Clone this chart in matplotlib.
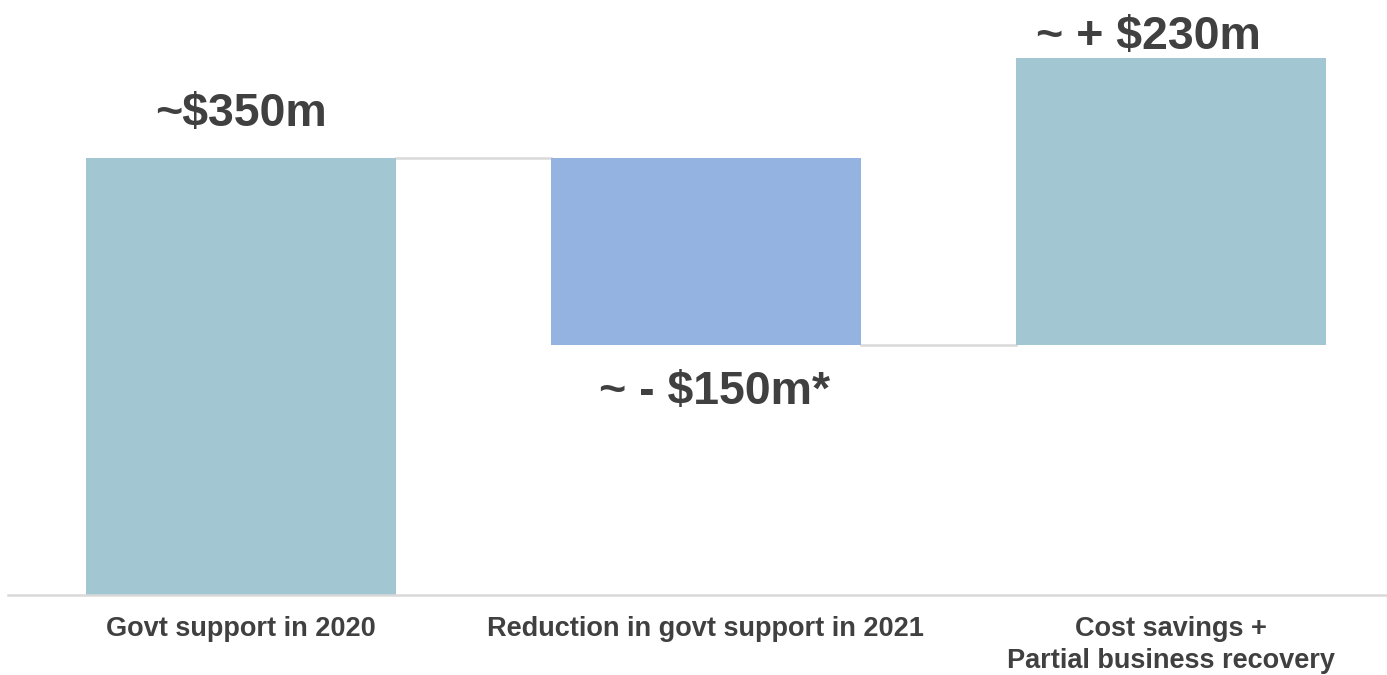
import numpy as np
import matplotlib.pyplot as plt
import matplotlib

matplotlib.rcParams['font.family'] = ['Liberation Sans', 'DejaVu Sans']

# 瀑布图数据
categories = ['Govt support in 2020', 'Reduction in govt support in 2021',
              'Cost savings +\nPartial business recovery']
changes = [350, -150, 230]
value_labels = ['~$350m', '~ - $150m*', '~ + $230m']
bar_colors = ['#A3C6D3', '#95B3E0', '#A3C6D3']

# 计算每根柱子的起点和终点
ends = np.cumsum(changes)
starts = np.concatenate([[0], ends[:-1]])

text_color = '#404040'
line_color = '#D9D9D9'
width = 310 / 465

fig = plt.figure(figsize=(13.87, 6.75), dpi=100)
ax = fig.add_axes([8 / 1387, 80 / 675, 1 - 8 / 1387, 595 / 675])

x = np.arange(len(categories))
bottoms = np.minimum(starts, ends)
heights = np.abs(ends - starts)
ax.bar(x, heights, bottom=bottoms, width=width, color=bar_colors, zorder=2)

# 连接线
for i in range(len(categories) - 1):
    ax.plot([x[i] + width / 2, x[i + 1] - width / 2], [ends[i], ends[i]],
            color=line_color, linewidth=1.8, zorder=1)

# 数值标注（各自的偏移）
label_offsets = [(0, 23), (6, -18), (-16, 6)]
for i, (s, e, lab) in enumerate(zip(starts, ends, value_labels)):
    va = 'baseline' if e >= s else 'top'
    ax.annotate(lab, (x[i], e), xytext=label_offsets[i], textcoords='offset points',
                ha='center', va=va, fontsize=33.5, fontweight='bold',
                color=text_color)

ax.set_xlim(-0.501, 2.465)
ax.set_ylim(0, 476)
ax.set_xticks(x)
ax.set_xticklabels(categories, fontsize=19.5, fontweight='bold', color=text_color,
                   linespacing=1.3)
ax.tick_params(axis='x', length=0, pad=15)
ax.set_yticks([])
for side in ['top', 'right', 'left']:
    ax.spines[side].set_visible(False)
ax.spines['bottom'].set_color(line_color)
ax.spines['bottom'].set_linewidth(1.8)

plt.savefig('out.png', dpi=100, facecolor='white')
